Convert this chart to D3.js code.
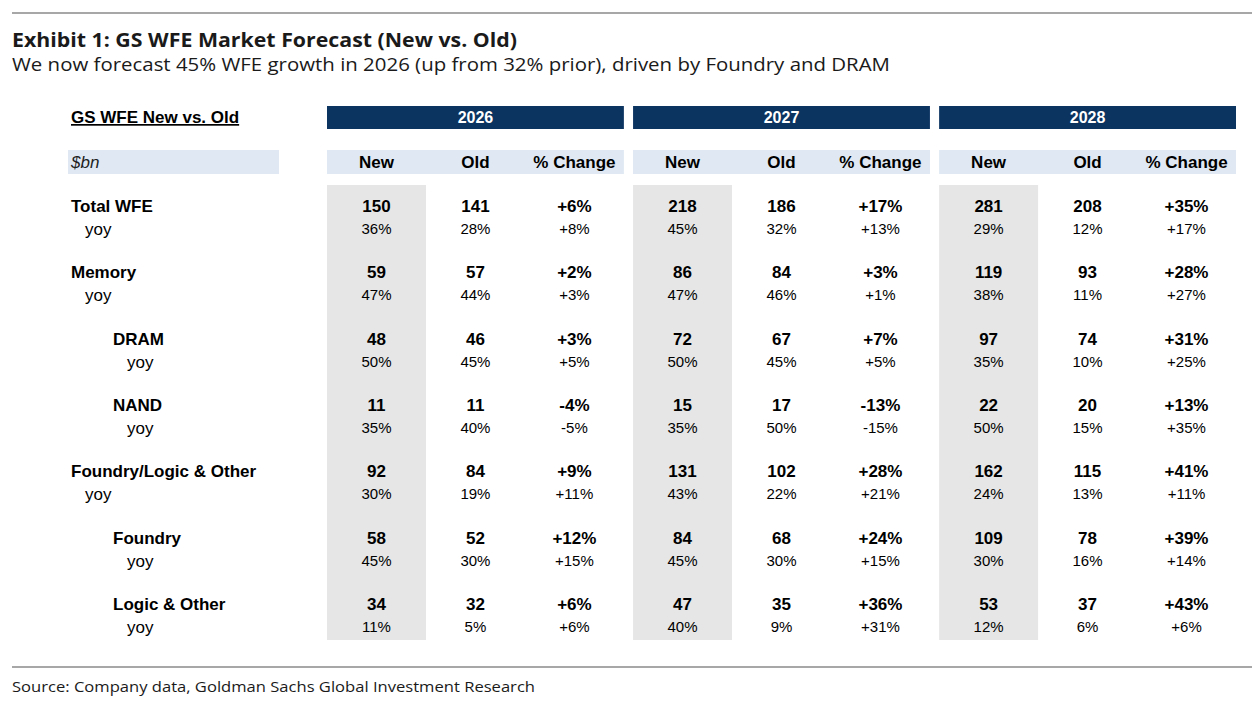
<!DOCTYPE html>
<html><head><meta charset="utf-8">
<script src="https://cdn.jsdelivr.net/npm/d3@7"></script>
<style>body{margin:0;background:#fff}</style></head>
<body><svg id="c" width="1252" height="711"></svg>
<script>
const years = ["2026","2027","2028"];
const colHeads = ["New","Old","% Change"];
const rowLabels = ["Total WFE","Memory","DRAM","NAND","Foundry/Logic & Other","Foundry","Logic & Other"];
const rowIndent = [0,0,1,1,0,1,1];
// per row: [New, Old, %Chg] for each year
const mainVals = [
 ["150","141","+6%","218","186","+17%","281","208","+35%"],
 ["59","57","+2%","86","84","+3%","119","93","+28%"],
 ["48","46","+3%","72","67","+7%","97","74","+31%"],
 ["11","11","-4%","15","17","-13%","22","20","+13%"],
 ["92","84","+9%","131","102","+28%","162","115","+41%"],
 ["58","52","+12%","84","68","+24%","109","78","+39%"],
 ["34","32","+6%","47","35","+36%","53","37","+43%"]
];
const yoyVals = [
 ["36%","28%","+8%","45%","32%","+13%","29%","12%","+17%"],
 ["47%","44%","+3%","47%","46%","+1%","38%","11%","+27%"],
 ["50%","45%","+5%","50%","45%","+5%","35%","10%","+25%"],
 ["35%","40%","-5%","35%","50%","-15%","50%","15%","+35%"],
 ["30%","19%","+11%","43%","22%","+21%","24%","13%","+11%"],
 ["45%","30%","+15%","45%","30%","+15%","30%","16%","+14%"],
 ["11%","5%","+6%","40%","9%","+31%","12%","6%","+6%"]
];
const svg = d3.select("#c");
const F = "'Liberation Sans', Arial, sans-serif";
const T = "'Open Sans', 'Noto Sans', sans-serif";
svg.append("line").attr("x1",12).attr("x2",1252).attr("y1",13).attr("y2",13).attr("stroke","#8a8a8a").attr("stroke-width",1.5);
svg.append("line").attr("x1",12).attr("x2",1252).attr("y1",667).attr("y2",667).attr("stroke","#8a8a8a").attr("stroke-width",1.5);
svg.append("text").attr("x",12).attr("y",47).attr("font-family",T).attr("font-weight",700).attr("font-size",20).attr("fill","#1a1a1a")
  .attr("textLength",505).attr("lengthAdjust","spacingAndGlyphs").text("Exhibit 1: GS WFE Market Forecast (New vs. Old)");
svg.append("text").attr("x",12).attr("y",71).attr("font-family",T).attr("font-size",19).attr("fill","#1a1a1a")
  .attr("textLength",878).attr("lengthAdjust","spacingAndGlyphs").text("We now forecast 45% WFE growth in 2026 (up from 32% prior), driven by Foundry and DRAM");
svg.append("text").attr("x",12).attr("y",692).attr("font-family",T).attr("font-size",15).attr("fill","#1a1a1a")
  .attr("textLength",523).attr("lengthAdjust","spacingAndGlyphs").text("Source: Company data, Goldman Sachs Global Investment Research");

// scales
const yearX = d3.scaleBand().domain(years).range([327,1236]).paddingInner(0.03);
const colX = d3.scaleBand().domain(d3.range(3)).range([0,yearX.bandwidth()]);
const cx = (j)=> yearX(years[Math.floor(j/3)]) + colX(j%3) + colX.bandwidth()/2;
const rowY = d3.scaleLinear().domain([0,6]).range([206,604]);

// header bars
years.forEach(y=>{
  const x0=yearX(y), w=yearX.bandwidth();
  svg.append("rect").attr("x",x0).attr("y",106).attr("width",w).attr("height",23).attr("fill","#0b3461");
  svg.append("text").attr("x",x0+w/2).attr("y",123).attr("text-anchor","middle").attr("font-family",F).attr("font-weight",700).attr("font-size",16).attr("fill","#fff").text(y);
  svg.append("rect").attr("x",x0).attr("y",150).attr("width",w).attr("height",24).attr("fill","#dfe8f3");
  svg.append("rect").attr("x",x0).attr("y",185).attr("width",colX.bandwidth()).attr("height",455).attr("fill","#e6e6e6");
});
svg.append("rect").attr("x",68).attr("y",150).attr("width",211).attr("height",24).attr("fill","#dfe8f3");
svg.append("text").attr("x",71).attr("y",168).attr("font-family",F).attr("font-style","italic").attr("font-size",17).attr("fill","#222").text("$bn");
svg.append("text").attr("x",71).attr("y",123).attr("font-family",F).attr("font-weight",700).attr("font-size",17).attr("text-decoration","underline").attr("fill","#000").text("GS WFE New vs. Old");
for(let j=0;j<9;j++){
  svg.append("text").attr("x",cx(j)).attr("y",168).attr("text-anchor","middle").attr("font-family",F).attr("font-weight",700).attr("font-size",17).attr("fill","#000").text(colHeads[j%3]);
}
rowLabels.forEach((lab,i)=>{
  const y=rowY(i), xi = rowIndent[i]?113:71;
  svg.append("text").attr("x",xi).attr("y",y+6).attr("font-family",F).attr("font-weight",700).attr("font-size",17).attr("fill","#000").text(lab);
  svg.append("text").attr("x",xi+14).attr("y",y+29).attr("font-family",F).attr("font-size",17).attr("fill","#000").text("yoy");
  mainVals[i].forEach((v,j)=>svg.append("text").attr("x",cx(j)).attr("y",y+6).attr("text-anchor","middle").attr("font-family",F).attr("font-weight",700).attr("font-size",17).attr("fill","#000").text(v));
  yoyVals[i].forEach((v,j)=>svg.append("text").attr("x",cx(j)).attr("y",y+28).attr("text-anchor","middle").attr("font-family",F).attr("font-size",15).attr("fill","#000").text(v));
});
</script></body></html>
